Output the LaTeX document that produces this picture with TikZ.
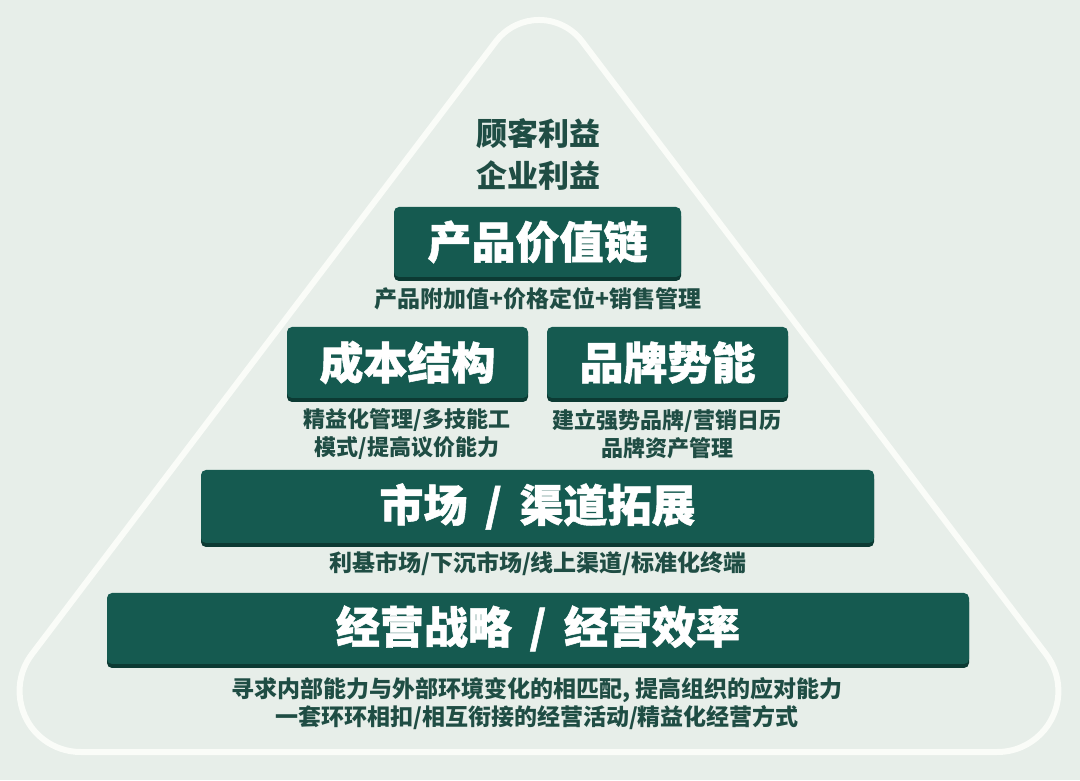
\documentclass[tikz,border=0pt]{standalone}
\usepackage{fontspec}
\setmainfont{Noto Sans CJK SC}
\newfontfamily\cjk{Noto Sans CJK SC}
\newfontfamily\headfont[BoldFeatures={FakeBold=1.2}]{Noto Sans CJK SC}
\definecolor{bgc}{HTML}{E7EEE9}
\definecolor{tric}{HTML}{FAFCF8}
\definecolor{boxc}{HTML}{155A50}
\definecolor{shadowc}{HTML}{0C3A33}
\definecolor{notec}{HTML}{1F4D44}
\newcommand{\slashsep}{\hspace{0.4em}/\hspace{0.4em}}
\tikzset{
  box/.style={fill=boxc, rounded corners=5pt, inner sep=0pt, text=white,
    font=\headfont\bfseries\fontsize{44}{50}\selectfont,
    preaction={fill=shadowc, transform canvas={yshift=-4pt}}},
  note/.style={text=notec, align=center, inner sep=0pt,
    font=\cjk\bfseries\fontsize{22}{28}\selectfont},
  top/.style={text=notec, align=center, inner sep=0pt,
    font=\cjk\bfseries\fontsize{31}{42}\selectfont},
  frame/.style={draw=tric, line width=6pt, line join=round}
}
\begin{document}
\begin{tikzpicture}[x=1pt,y=1pt]
\fill[bgc] (0,0) rectangle (1080,780);
\useasboundingbox (0,0) rectangle (1080,780);
% rounded triangle frame
\draw[frame] (80.6,28) -- (997.4,28)
  arc[start angle=-90, end angle=37.1, radius=61]
  -- (582.1,738.6)
  arc[start angle=37.1, end angle=142.9, radius=54]
  -- (31.9,125.8)
  arc[start angle=142.9, end angle=270, radius=61] -- cycle;
% top text
\node[top] (benefit) at (538,626) {顾客利益\\企业利益};
% boxes
\node[box, minimum width=287pt, minimum height=70pt] (chain) at (537.5,538) {产品价值链};
\node[note, font=\cjk\bfseries\fontsize{23}{28}\selectfont] (chainnote) at (538,481) {产品附加值+价格定位+销售管理};
\node[box, minimum width=241pt, minimum height=71pt] (cost) at (407.5,417.5) {成本结构};
\node[box, minimum width=241pt, minimum height=71pt] (brand) at (667.5,417.5) {品牌势能};
\node[note] (costnote) at (407,346) {精益化管理/多技能工\\模式/提高议价能力};
\node[note] (brandnote) at (667,346) {建立强势品牌/营销日历\\品牌资产管理};
\node[box, minimum width=673pt, minimum height=73pt] (market) at (537.5,273.5) {市场\slashsep 渠道拓展};
\node[note, font=\cjk\bfseries\fontsize{23}{28}\selectfont] (marketnote) at (538,216) {利基市场/下沉市场/线上渠道/标准化终端};
\node[box, minimum width=862pt, minimum height=71pt] (strategy) at (538,151.5) {经营战略\slashsep 经营效率};
\node[note, font=\cjk\bfseries\fontsize{23}{28}\selectfont] (strategynote) at (537,76) {寻求内部能力与外部环境变化的相匹配, 提高组织的应对能力\\一套环环相扣/相互衔接的经营活动/精益化经营方式};
\end{tikzpicture}
\end{document}
